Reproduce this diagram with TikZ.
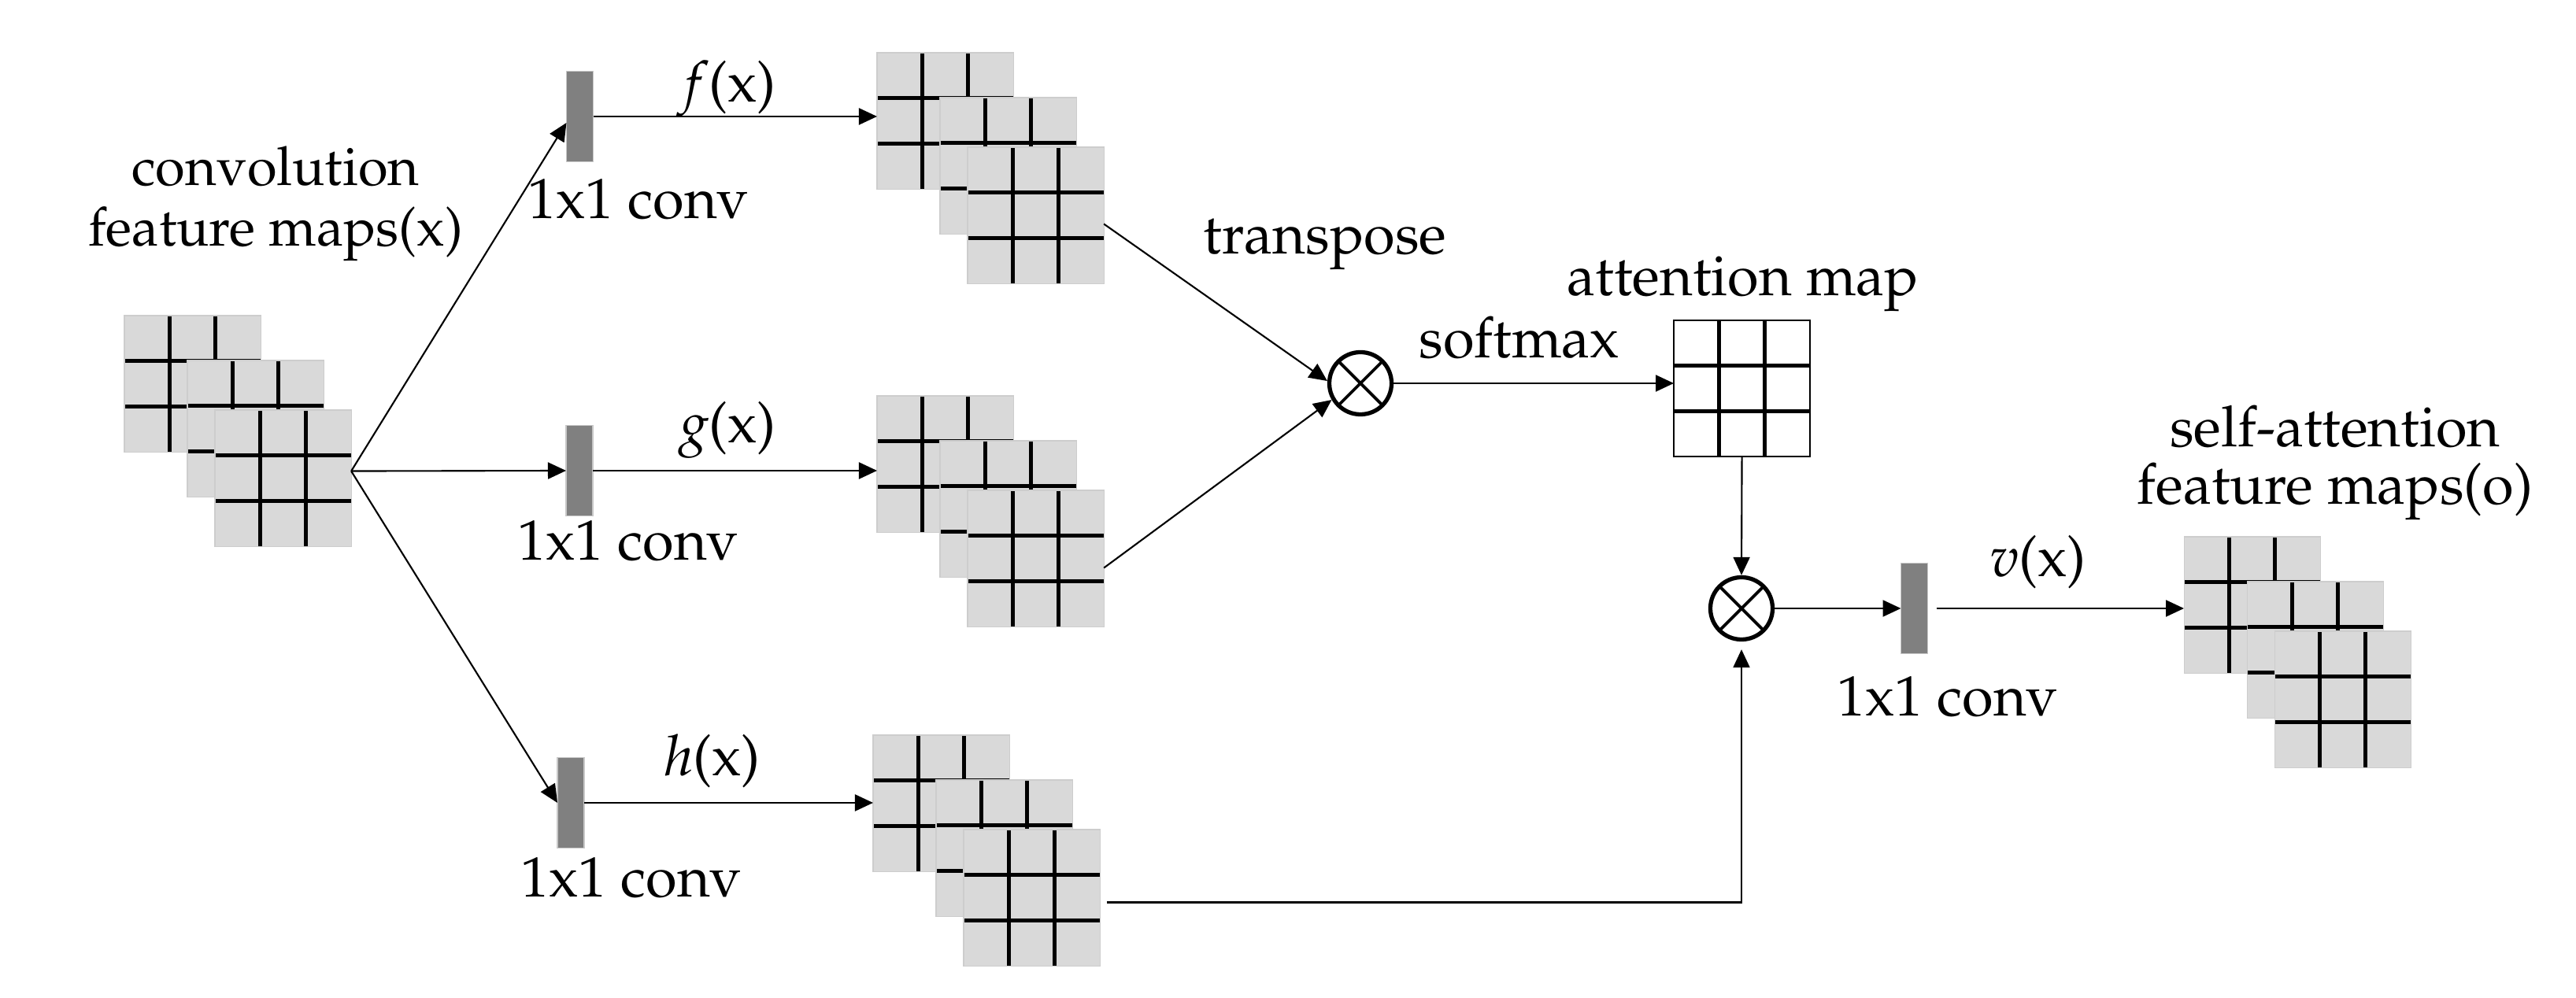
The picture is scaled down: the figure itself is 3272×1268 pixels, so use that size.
\documentclass[tikz,border=0pt]{standalone}
\usepackage[T1]{fontenc}
\usepackage{mathpazo}
\usetikzlibrary{arrows.meta}
\definecolor{mapgray}{HTML}{D9D9D9}
\definecolor{mapedge}{HTML}{CDCDCD}
\definecolor{convgray}{HTML}{808080}
\definecolor{convedge}{HTML}{C8C8C8}
\begin{document}
\begin{tikzpicture}[x=0.01cm, y=-0.01cm,
  gridline/.style={line width=1.35pt, black},
  fmap/.style={rectangle, anchor=north west, minimum width=1.73cm, minimum height=1.73cm,
    inner sep=0pt, outer sep=0pt, fill=mapgray, draw=mapedge, line width=0.3pt,
    path picture={
      \foreach \s in {-0.2883cm,0.2883cm}{
        \draw[gridline] ([xshift=\s]path picture bounding box.north) -- ([xshift=\s]path picture bounding box.south);
        \draw[gridline] ([yshift=\s]path picture bounding box.west) -- ([yshift=\s]path picture bounding box.east);
      }}},
  amap/.style={fmap, fill=white, draw=black, line width=0.5pt},
  convbar/.style={rectangle, fill=convgray, draw=convedge, line width=0.3pt,
    minimum width=0.34cm, minimum height=1.15cm, inner sep=0pt, outer sep=0pt},
  otimes/.style={circle, draw, line width=1.5pt, minimum size=0.79cm, inner sep=0pt,
    path picture={
      \draw[line width=1.1pt] (path picture bounding box.north west) -- (path picture bounding box.south east);
      \draw[line width=1.1pt] (path picture bounding box.north east) -- (path picture bounding box.south west);
    }},
  conn/.style={line width=0.6pt, -{Triangle[length=0.23cm, width=0.21cm]}},
  lbl/.style={font=\fontsize{20.5}{22}\selectfont, inner sep=0pt, anchor=base, align=center},
  lblleft/.style={lbl, font=\fontsize{19.5}{21}\selectfont}
]
\useasboundingbox (0,0) rectangle (3272,1268);

% feature map stacks
\node[fmap] (in1) at (158,401) {};
\node[fmap] (in2) at (238,458) {};
\node[fmap] (in3) at (273,521) {};

\node[fmap] (f1) at (1114,67) {};
\node[fmap] (f2) at (1194,124) {};
\node[fmap] (f3) at (1229,187) {};

\node[fmap] (g1) at (1114,503) {};
\node[fmap] (g2) at (1194,560) {};
\node[fmap] (g3) at (1229,623) {};

\node[fmap] (h1) at (1109,934) {};
\node[fmap] (h2) at (1189,991) {};
\node[fmap] (h3) at (1224,1054) {};

\node[fmap] (o1m) at (2774,682) {};
\node[fmap] (o2m) at (2854,739) {};
\node[fmap] (o3m) at (2889,802) {};

\node[amap] (map) at (2126,407) {};

% conv bars
\node[convbar] (fbar) at (736.5,148) {};
\node[convbar] (gbar) at (736,598) {};
\node[convbar] (hbar) at (725,1020) {};
\node[convbar] (vbar) at (2431.5,773) {};

% products
\node[otimes] (ot1) at (1728,487) {};
\node[otimes] (ot2) at (2212,773) {};

% labels
\node[lblleft] (lconv) at (350,236) {convolution};
\node[lblleft] (lfeat) at (350,313) {feature maps(x)};
\node[lbl] (lf) at (928,130) {\textit{f}(x)};
\node[lbl] (lg) at (925,563) {\textit{g}(x)};
\node[lbl] (lh) at (905,986) {\textit{h}(x)};
\node[lbl] (lv) at (2589,733) {\textit{v}(x)};
\node[lbl] (c1) at (811,278) {1x1 conv};
\node[lbl] (c2) at (798,712) {1x1 conv};
\node[lbl] (c3) at (802,1140) {1x1 conv};
\node[lbl] (c4) at (2474,910) {1x1 conv};
\node[lbl] (ltr) at (1683,323) {transpose};
\node[lbl] (latt) at (2214,376) {attention map};
\node[lbl] (lsm) at (1930,455) {softmax};
\node[lbl] (lsa) at (2966,568) {self-attention};
\node[lbl] (lfo) at (2966,641) {feature maps(o)};

% connectors
\draw[conn] ([yshift=0.09cm]in3.east) -- ([yshift=-0.08cm]fbar.west);
\draw[conn] ([yshift=0.09cm]in3.east) -- (gbar.west);
\draw[conn] ([yshift=0.09cm]in3.east) -- (hbar.west);

\draw[conn] (fbar.east) -- (fbar.east -| f1.west);
\draw[conn] (gbar.east) -- (gbar.east -| g1.west);
\draw[conn] (hbar.east) -- (hbar.east -| h1.west);

\draw[conn] ([yshift=-0.11cm]f3.east) -- (ot1.176);
\draw[conn] ([yshift=-0.12cm]g3.east) -- (ot1.210);

\draw[conn] (ot1.east) -- (ot1.east -| map.west);
\draw[conn] (map.south) -- (ot2.north);
\draw[conn] ([xshift=0.09cm,yshift=-0.06cm]h3.east) -| ([yshift=-0.1cm]ot2.south);

\draw[conn] (ot2.east) -- (vbar.west);
\draw[conn] ([xshift=0.11cm]vbar.east) -- (vbar.east -| o1m.west);
\end{tikzpicture}
\end{document}
